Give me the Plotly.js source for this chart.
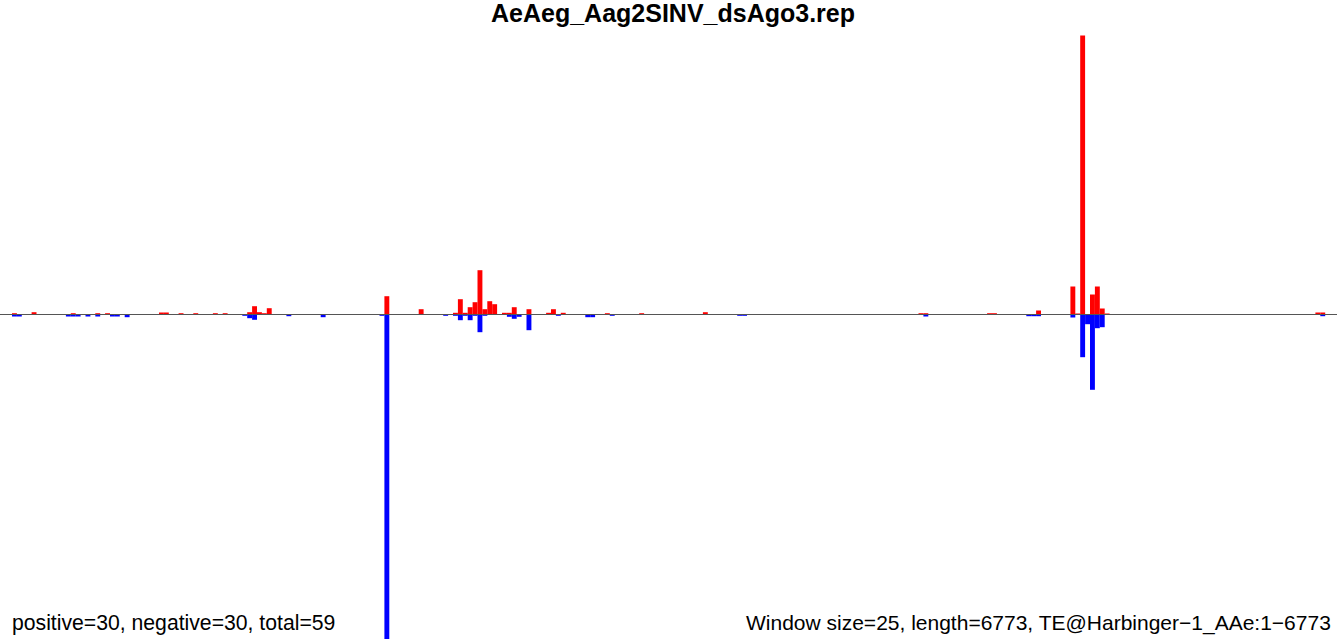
<!DOCTYPE html>
<html>
<head>
<meta charset="utf-8">
<script src="https://cdn.plot.ly/plotly-3.0.1.min.js"></script>
<style>html,body{margin:0;padding:0;background:#fff;}#chart{width:1337px;height:639px;}</style>
</head>
<body>
<div id="chart"></div>
<script>
// window size 25 bp, window index -> start = index*25
const windowSize = 25;
const seqLength = 6773;
// positive-strand (red) windows and heights
const posWindows = [0,4,12,17,19,30,31,34,37,41,43,48,49,50,51,52,76,83,90,91,92,93,94,95,96,97,98,100,101,102,105,109,110,112,121,128,141,185,186,199,200,209,216,217,218,220,221,222,223,266,267];
const posValues  = [1.3,2.3,1.3,1.3,1.3,2,2,1.3,1.3,1.3,1.3,2.3,8.3,2.3,1.3,6.3,18.3,5.3,1.7,15.3,1.7,7.3,12.3,44.3,5.3,13.3,10.3,1.7,1.7,7.3,5.3,1.7,5.3,1.7,1.3,1.3,2.3,1.3,1.3,1.3,1.3,4,28,1,279,20,28,6,1,2,2];
// negative-strand (blue) windows and heights (drawn downward)
const negWindows = [0,1,11,12,13,15,17,20,21,23,47,48,49,56,63,75,76,88,90,91,92,93,94,95,96,101,102,103,105,111,117,118,122,148,149,186,207,208,209,216,218,219,220,221,222,267];
const negValues  = [2,2,2,2,2,2,2,2,2,2.7,1.3,3.7,5.3,1.7,2.7,1.3,340,1.3,1.3,5.7,1.3,5.7,1.3,17.7,1.3,2.3,4.3,2.3,15.7,1.3,2.7,2.7,1.3,1.3,1.3,2,1.7,1.7,1.7,3,42.7,9.7,75.3,13.7,12.7,1.7];

const titleText = "AeAeg_Aag2SINV_dsAgo3.rep";
const leftNote = "positive=30, negative=30, total=59";
const rightNote = "Window size=25, length=6773, TE@Harbinger\u22121_AAe:1\u22126773";

const center = w => w * windowSize + windowSize / 2;

const traces = [
  {type:'bar', x: posWindows.map(center), y: posValues, width: windowSize,
   marker:{color:'#ff0000', line:{width:0}}, hoverinfo:'x+y'},
  {type:'bar', x: negWindows.map(center), y: negValues.map(v => -v), width: windowSize,
   marker:{color:'#0000ff', line:{width:0}}, hoverinfo:'x+y'}
];

const layout = {
  width:1337, height:639,
  margin:{l:0, r:0, t:0, b:0},
  paper_bgcolor:'#ffffff', plot_bgcolor:'#ffffff',
  barmode:'overlay', showlegend:false,
  xaxis:{range:[-61.2, 6760.2], visible:false, fixedrange:true},
  yaxis:{range:[-324.5, 314.5], visible:false, fixedrange:true},
  shapes:[{type:'line', xref:'paper', x0:0, x1:1, yref:'y', y0:0, y1:0,
           line:{color:'#555555', width:1}, layer:'above'}],
  annotations:[
    {text:'<b>'+titleText+'</b>', xref:'paper', yref:'paper', x:0.5036, y:1,
     xanchor:'center', yanchor:'top', yshift:3, showarrow:false,
     font:{family:'Liberation Sans, Arial, sans-serif', size:25, color:'#000'}},
    {text:leftNote, xref:'paper', yref:'paper', x:12/1337, y:0, yshift:2, xshift:-2,
     xanchor:'left', yanchor:'bottom', showarrow:false,
     font:{family:'Liberation Sans, Arial, sans-serif', size:21.2, color:'#000'}},
    {text:rightNote, xref:'paper', yref:'paper', x:747/1337, y:0, yshift:2, xshift:-3,
     xanchor:'left', yanchor:'bottom', showarrow:false,
     font:{family:'Liberation Sans, Arial, sans-serif', size:21, color:'#000'}}
  ]
};
Plotly.newPlot('chart', traces, layout, {staticPlot:true, displayModeBar:false});
</script>
</body>
</html>
